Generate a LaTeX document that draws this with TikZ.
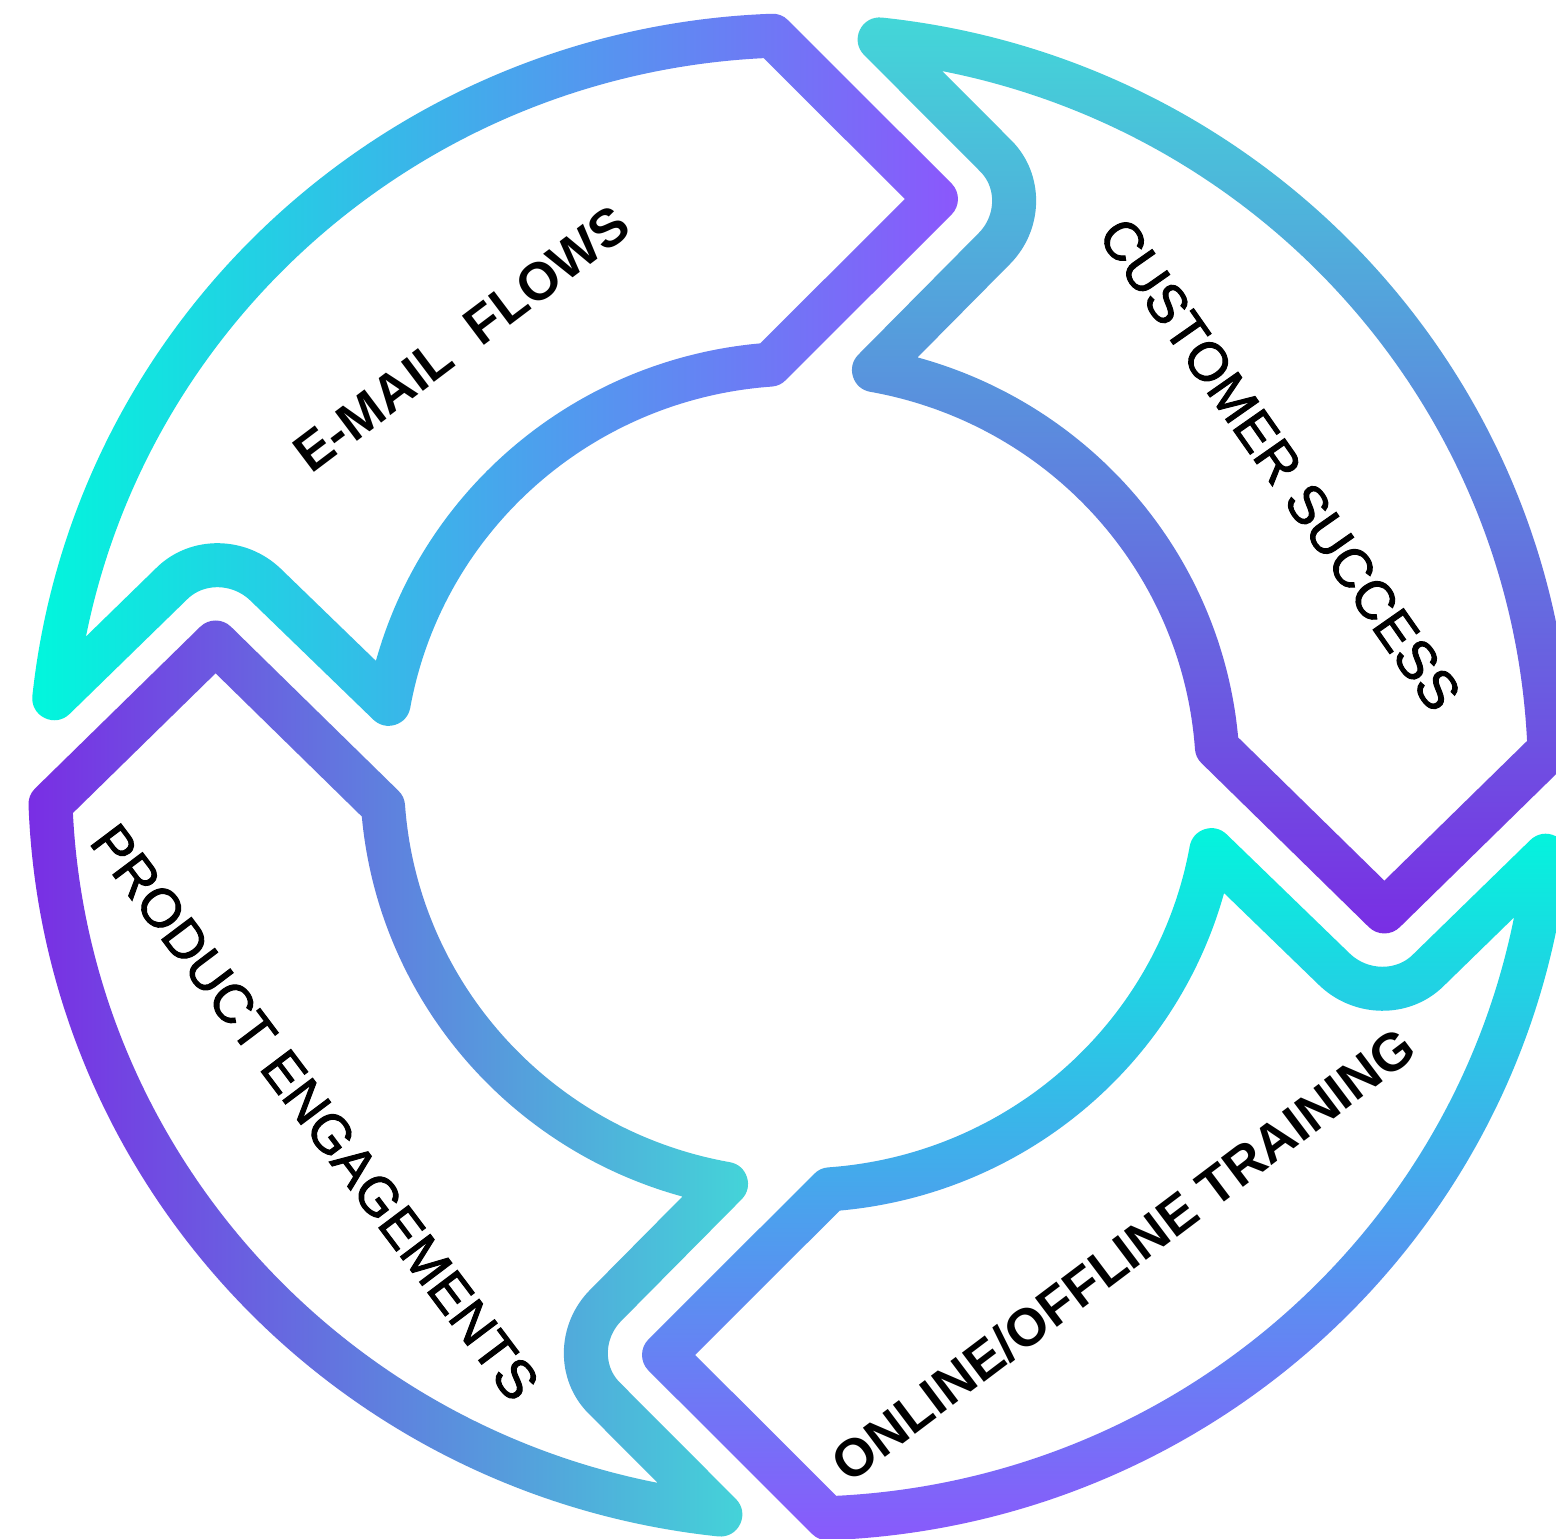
\documentclass[tikz,border=0pt]{standalone}
\usepackage{fontspec}
\setmainfont{Liberation Sans}
\newfontfamily\medfont{Liberation Sans}[FakeBold=1.8]
\usetikzlibrary{calc}
\usetikzlibrary{fadings}

\definecolor{flowaqua}{HTML}{00F8DC}
\definecolor{flowviolet}{HTML}{8C56FC}
\definecolor{succteal}{HTML}{42D9D8}
\definecolor{succpurple}{HTML}{7A2CE4}

\tikzset{
  ring/.style={draw=transparent!0, line width=0.44cm, line join=round}
}

% one arrow of the cycle, #1 turns it (0 = the upper left one)
\newcommand{\cyclearrow}[1]{%
  \coordinate (to) at ({173.9+#1}:7.5);
  \coordinate (ti) at ({169.8+#1}:4.18);
  \coordinate (nk) at ({157.5+#1}:6.3);
  \coordinate (na) at ($(nk)!0.28!(ti)$);
  \coordinate (nb) at ($(nk)!0.28!(to)$);
  \draw[ring] (to) arc[start angle={173.9+#1}, end angle={92.1+#1}, radius=7.5]
    -- ({76.9+#1}:6.0) -- ({94.1+#1}:4.18)
    arc[start angle={94.1+#1}, end angle={169.8+#1}, radius=4.18]
    -- (na) .. controls ($(na)!0.552!(nk)$) and ($(nb)!0.552!(nk)$) .. (nb)
    -- cycle;}

% the outlines, boxed round the centre of the ring
\begin{tikzfadingfrompicture}[name=fademail, x=1cm, y=0.989cm]
  \useasboundingbox (-8,-8) rectangle (8,8);
  \cyclearrow{0}
\end{tikzfadingfrompicture}
\begin{tikzfadingfrompicture}[name=fadesuccess, x=1cm, y=0.989cm]
  \useasboundingbox (-8,-8) rectangle (8,8);
  \cyclearrow{-90}
\end{tikzfadingfrompicture}
\begin{tikzfadingfrompicture}[name=fadetraining, x=1cm, y=0.989cm]
  \useasboundingbox (-8,-8) rectangle (8,8);
  \cyclearrow{-180}
\end{tikzfadingfrompicture}
\begin{tikzfadingfrompicture}[name=fadeproduct, x=1cm, y=0.989cm]
  \useasboundingbox (-8,-8) rectangle (8,8);
  \cyclearrow{-270}
\end{tikzfadingfrompicture}

\begin{document}
\begin{tikzpicture}[x=1cm, y=0.989cm,
    bold label/.style={font=\fontsize{15.1}{18}\selectfont\bfseries, inner sep=0pt},
    medium label/.style={font=\medfont\fontsize{15.4}{18}\selectfont, inner sep=0pt},
    stroke/.style={fit fading=false}
  ]
  \fill[white] (-8,-7.705) rectangle (7.56,7.856);
  \useasboundingbox (-8,-7.705) rectangle (7.56,7.856);

  % the four arrows, each a shaded box seen through its outline
  \shade[stroke, path fading=fademail, left color=flowaqua, right color=flowviolet]
    (-7.75,0.42) rectangle (1.65,7.78);
  \shade[stroke, path fading=fadesuccess, top color=succteal, bottom color=succpurple]
    (0.40,-1.70) rectangle (7.75,7.81);
  \shade[stroke, path fading=fadetraining, top color=flowaqua, bottom color=flowviolet]
    (-1.70,-7.87) rectangle (7.75,-0.35);
  \shade[stroke, path fading=fadeproduct, left color=succpurple, right color=succteal]
    (-7.80,-7.87) rectangle (-0.30,1.79);

  \node[bold label, rotate=37] (email) at (-3.38,4.43) {E-MAIL\ \ FLOWS};
  \node[medium label, rotate=-55] (success) at (4.80,3.16) {CUSTOMER SUCCESS};
  \node[bold label, rotate=37] (training) at (3.23,-4.83) {ONLINE/OFFLINE TRAINING};
  \node[medium label, rotate=-53] (product) at (-4.85,-3.39) {PRODUCT ENGAGEMENTS};
\end{tikzpicture}
\end{document}
